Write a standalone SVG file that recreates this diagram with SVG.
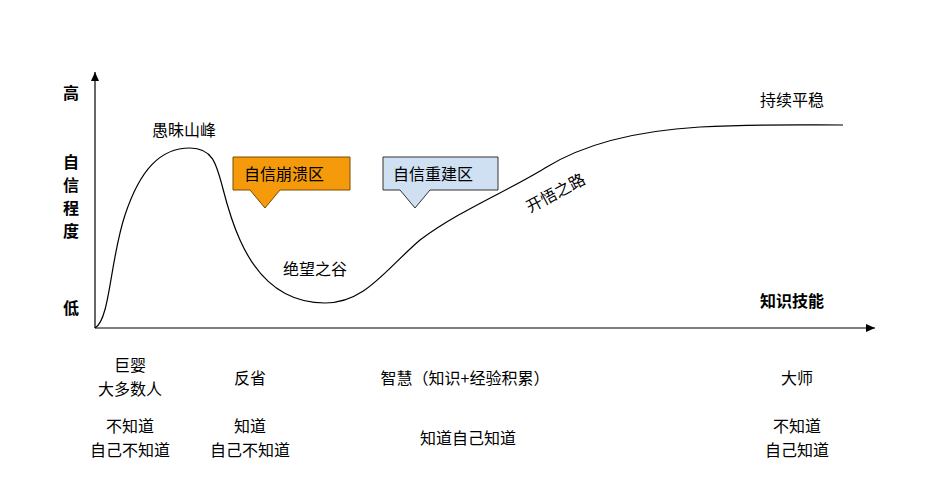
<svg xmlns="http://www.w3.org/2000/svg" width="935" height="477" viewBox="0 0 935 477">
<style>
text{font-family:"Noto Sans CJK SC","Liberation Sans",sans-serif;font-size:16px;fill:#000}
.b{font-weight:bold;font-size:16px}
.ax{stroke:#000;stroke-width:1.2;fill:none}
</style>
<defs><marker id="ar" markerWidth="10" markerHeight="10" refX="9" refY="5" orient="auto" markerUnits="userSpaceOnUse"><path d="M0,1 L9,5 L0,9 Z" fill="#000"/></marker></defs>
<rect width="935" height="477" fill="#fff"/>
<g id="axes">
<line class="ax" x1="95" y1="328" x2="95" y2="72" marker-end="url(#ar)"/>
<line class="ax" x1="95" y1="328" x2="875" y2="328" marker-end="url(#ar)"/>
</g>
<g id="curve"><path class="ax" d="M95,328 C110,320 110,260 125,215 C140,170 160,148 190,148 C225,148 215,185 240,240 C260,285 290,303 325,303 C365,303 385,270 420,240 C460,210 510,190 545,168 C590,140 650,130 700,127 C760,124 800,125 843,125"/></g>
<g id="ylabels">
<text class="b" x="63" y="99">高</text>
<text class="b" x="63" y="168">自</text>
<text class="b" x="63" y="191">信</text>
<text class="b" x="63" y="214">程</text>
<text class="b" x="63" y="237">度</text>
<text class="b" x="63" y="314">低</text>
<text class="b" x="760" y="307">知识技能</text>
</g>
<g id="labels">
<text x="152" y="136">愚昧山峰</text>
<text x="283" y="275">绝望之谷</text>
<text x="760" y="106">持续平稳</text>
<text x="530" y="213" transform="rotate(-28 530 213)">开悟之路</text>
</g>
<g id="callout1"><path d="M233,157 H350 V190 H280 L265,208 L250,190 H233 Z" fill="#f59a0a" stroke="#7a4a00"/><text x="244" y="180">自信崩溃区</text></g>
<g id="callout2"><path d="M383,157 H498 V190 H430 L415,208 L400,190 H383 Z" fill="#cfe0f2" stroke="#333"/><text x="393" y="180">自信重建区</text></g>
<g id="bottom" text-anchor="middle">
<text x="130" y="371">巨婴</text><text x="130" y="395">大多数人</text>
<text x="250" y="384">反省</text>
<text x="465" y="384">智慧（知识+经验积累）</text>
<text x="797" y="384">大师</text>
<text x="130" y="432">不知道</text><text x="130" y="456">自己不知道</text>
<text x="250" y="432">知道</text><text x="250" y="456">自己不知道</text>
<text x="468" y="444">知道自己知道</text>
<text x="797" y="432">不知道</text><text x="797" y="456">自己知道</text>
</g>
</svg>
